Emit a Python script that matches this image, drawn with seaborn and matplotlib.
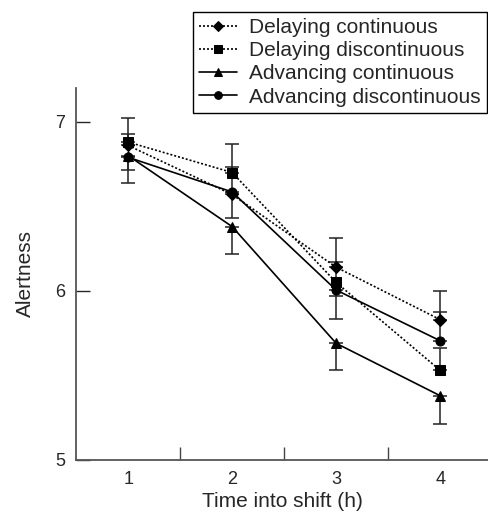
import pandas as pd
import matplotlib
matplotlib.use('Agg')
import matplotlib.pyplot as plt
import seaborn as sns

hours = [1, 2, 3, 4]
groups = ['Delaying continuous', 'Delaying discontinuous',
          'Advancing continuous', 'Advancing discontinuous']

delay_cont = [6.86, 6.57, 6.14, 5.83]
delay_disc = [6.88, 6.70, 6.05, 5.53]
adv_cont = [6.80, 6.38, 5.69, 5.38]
adv_disc = [6.79, 6.585, 6.005, 5.705]

# error bar halves (lower, upper)
delay_cont_err = ([0.0, 0.0, 0.0, 0.0], [0.07, 0.165, 0.17, 0.17])
delay_disc_err = ([0.0, 0.0, 0.08, 0.0], [0.14, 0.17, 0.12, 0.13])
adv_cont_err = ([0.085, 0.16, 0.16, 0.167], [0.0, 0.0, 0.0, 0.0])
adv_disc_err = ([0.15, 0.155, 0.17, 0.0], [0.0, 0.0, 0.0, 0.17])

values = [delay_cont, delay_disc, adv_cont, adv_disc]
errors = [delay_cont_err, delay_disc_err, adv_cont_err, adv_disc_err]

df = pd.DataFrame({
    'hour': hours * 4,
    'alertness': sum(values, []),
    'group': [g for g in groups for _ in hours],
})

sns.set_style('ticks')
plt.rcParams['font.family'] = ['Liberation Sans', 'DejaVu Sans']

fig = plt.figure(figsize=(4.88, 5.12), dpi=100)
ax = fig.add_axes([0.156, 0.1016, 0.844, 0.7266])

markers = {'Delaying continuous': 'D', 'Delaying discontinuous': 's',
           'Advancing continuous': '^', 'Advancing discontinuous': 'o'}
dashes = {'Delaying continuous': (1.2, 1.2), 'Delaying discontinuous': (1.2, 1.2),
          'Advancing continuous': '', 'Advancing discontinuous': ''}

for g, v, (lo, hi) in zip(groups, values, errors):
    ax.errorbar(hours, v, yerr=[lo, hi], fmt='none', ecolor='#222222',
                elinewidth=1.1, capsize=5, capthick=1.1, zorder=1)

sns.lineplot(data=df, x='hour', y='alertness', hue='group', style='group',
             palette=['black'] * 4, markers=markers, dashes=dashes,
             linewidth=1.2, markersize=6.5, markeredgecolor='black',
             ax=ax, zorder=3)

ax.set_xlim(0.5, 4.46)
ax.set_ylim(5, 7.2)
ax.set_xticks(hours)
ax.set_xticks([1.5, 2.5, 3.5], minor=True)
ax.set_yticks([5, 6, 7])
ax.tick_params(axis='x', which='major', length=0, pad=8, labelsize=13)
ax.tick_params(axis='x', which='minor', direction='in', length=9.5, width=1.0, color='#444444')
ax.tick_params(axis='y', direction='in', length=10, width=1.0, pad=8, labelsize=13)
ax.set_xlabel('Time into shift (h)', fontsize=15, labelpad=3)
ax.set_ylabel('Alertness', fontsize=15, labelpad=14)
for side in ['top', 'right']:
    ax.spines[side].set_visible(False)
for side in ['left', 'bottom']:
    ax.spines[side].set_color('#555555')
    ax.spines[side].set_linewidth(1.3)

handles, labels = ax.get_legend_handles_labels()
leg = ax.legend(handles, labels, loc='upper right', bbox_to_anchor=(0.998, 0.977),
                bbox_transform=fig.transFigure, fontsize=15, frameon=True,
                fancybox=False, edgecolor='black', framealpha=1,
                handlelength=1.8, handletextpad=0.6, labelspacing=0.2,
                borderpad=0.3, borderaxespad=0)
leg.get_frame().set_linewidth(1.0)
for h in leg.legend_handles:
    h.set_markersize(5.5)

fig.savefig('out.png', dpi=100)
